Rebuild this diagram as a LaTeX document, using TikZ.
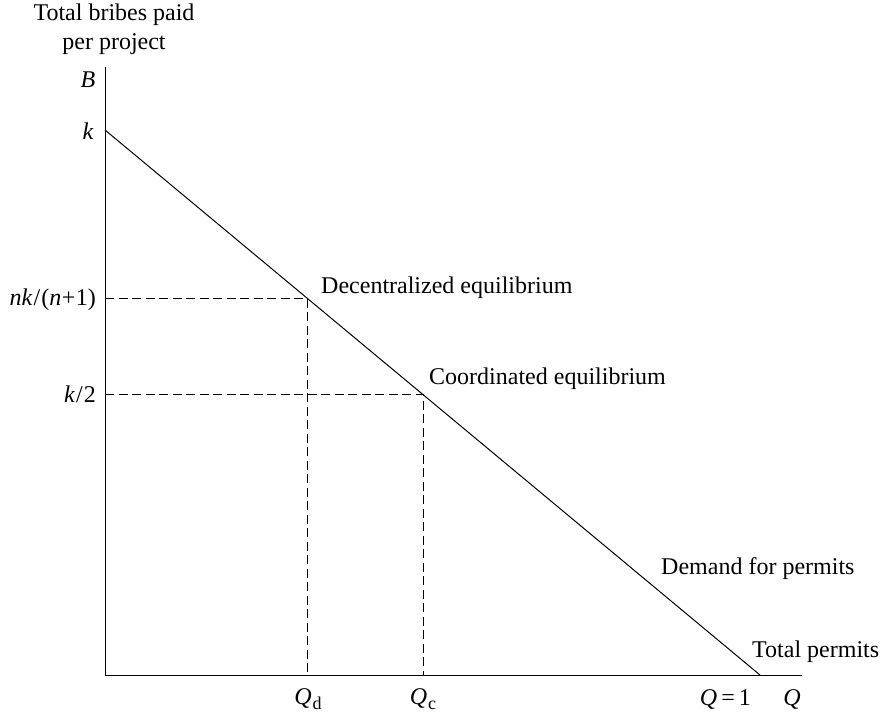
\documentclass[tikz,border=0pt]{standalone}
\usepackage{fontspec}
\setmainfont{Liberation Serif}
\usetikzlibrary{calc}
\begin{document}
\begin{tikzpicture}[x=1pt,y=-1pt,
  axis/.style={line width=1pt},
  demand/.style={line width=1pt},
  guide/.style={line width=0.9pt,dash pattern=on 9pt off 4.5pt},
  lbl/.style={font=\fontsize{24}{29}\selectfont,inner sep=0pt},
  varlbl/.style={font=\fontsize{24}{29}\selectfont\itshape,inner sep=0pt}]
\useasboundingbox (0,0) rectangle (890,715);
% axes
\coordinate (O) at (105,675);
\coordinate (ytop) at (105,67);
\coordinate (xend) at (802,675);
\draw[axis] (ytop) -- (O) -- (xend);
% demand line from B=k down to Q=1
\coordinate (kpt) at (105,130);
\coordinate (qone) at (760,675);
\draw[demand] (kpt) -- (qone);
% equilibrium points on the demand line
\coordinate (dec) at ($(kpt)!0.3084!(qone)$);
\coordinate (coo) at ($(kpt)!0.4855!(qone)$);
\coordinate (decY) at (O |- dec);
\coordinate (decX) at (dec |- O);
\coordinate (cooY) at (O |- coo);
\coordinate (cooX) at (coo |- O);
\draw[guide] (decY) -- (dec) -- (decX);
\draw[guide] (cooY) -- (coo) -- (cooX);
% axis titles
\node[lbl,align=center] (ytitle) at (114,29) {Total bribes paid\\per project};
\node[varlbl] (Blbl) at (88,80) {B};
\node[varlbl] (klbl) at (88,131) {k};
\node[lbl,anchor=east] (nklbl) at (96,300) {\textit{nk}\kern1pt/\kern1pt(\textit{n}\kern0.5pt+\kern0.5pt1)};
\node[lbl,anchor=east] (khalf) at (96,394) {\textit{k}\kern1pt/\kern1pt2};
% quantity labels
\node[lbl] (Qd) at (308,699) {\textit{Q}\kern1pt\raisebox{-5pt}{\fontsize{18}{20}\selectfont d}};
\node[lbl] (Qc) at (423,699) {\textit{Q}\kern1pt\raisebox{-5pt}{\fontsize{18}{20}\selectfont c}};
\node[lbl,anchor=east] (Qone) at (751,699) {\textit{Q}\,=\,1};
\node[varlbl] (Qax) at (792,699) {Q};
% curve and point labels
\node[lbl,anchor=west] (declbl) at (321,288) {Decentralized equilibrium};
\node[lbl,anchor=west] (coolbl) at (429,379) {Coordinated equilibrium};
\node[lbl,anchor=west] (demlbl) at (661,569) {Demand for permits};
\node[lbl,anchor=west] (totlbl) at (752,652) {Total permits};
\end{tikzpicture}
\end{document}
